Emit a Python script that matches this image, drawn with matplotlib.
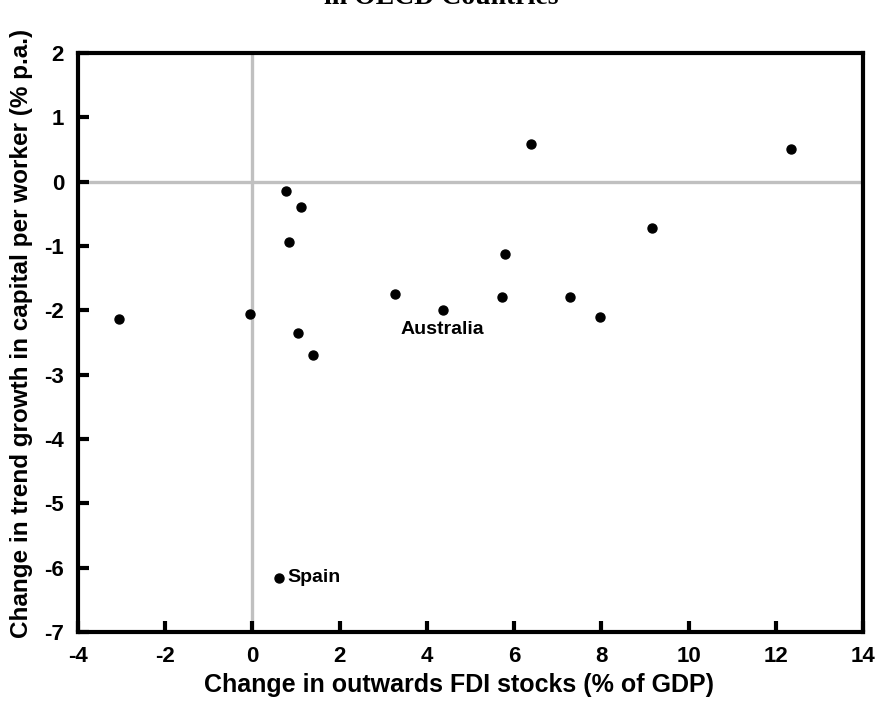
import matplotlib
matplotlib.use("Agg")
import matplotlib.pyplot as plt

# Change in outwards FDI stocks (% of GDP) vs change in trend capital growth
fdi_change = [-3.05, -0.05, 0.76, 1.12, 0.83, 1.05, 1.40, 3.26, 4.36,
              6.38, 5.80, 5.73, 7.29, 7.98, 9.15, 12.34, 0.62]
capital_change = [-2.13, -2.05, -0.14, -0.39, -0.93, -2.35, -2.69, -1.74, -2.00,
                  0.58, -1.12, -1.80, -1.80, -2.10, -0.72, 0.50, -6.16]
point_labels = {8: "Australia", 16: "Spain"}

x_ticks = [-4, -2, 0, 2, 4, 6, 8, 10, 12, 14]
y_ticks = [2, 1, 0, -1, -2, -3, -4, -5, -6, -7]

plt.rcParams.update({
    "font.family": ["Liberation Sans", "DejaVu Sans"],
    "font.weight": "bold",
    "axes.unicode_minus": False,
})

fig = plt.figure(figsize=(8.82, 7.01), dpi=100)
ax = fig.add_axes([0.0884, 0.0984, 0.8901, 0.826])

ax.axhline(0, color="#c0c0c0", linewidth=2.4, zorder=1)
ax.axvline(0, color="#c0c0c0", linewidth=2.4, zorder=1)
ax.scatter(fdi_change, capital_change, s=42, color="black", zorder=3)

for idx, name in point_labels.items():
    if name == "Spain":
        ax.annotate(name, (fdi_change[idx], capital_change[idx]), xytext=(6, 0),
                    textcoords="offset points", ha="left", va="center",
                    fontsize=14, fontweight="bold")
    else:
        ax.annotate(name, (fdi_change[idx], capital_change[idx]), xytext=(0, -14),
                    textcoords="offset points", ha="center", va="center",
                    fontsize=14, fontweight="bold")

ax.set_xlim(-4, 14)
ax.set_ylim(-7, 2)
ax.set_xticks(x_ticks)
ax.set_yticks(y_ticks)
ax.set_xticklabels([str(v) for v in x_ticks])
ax.set_yticklabels([str(v) for v in y_ticks])
ax.tick_params(direction="in", length=8, width=3, labelsize=16)
ax.tick_params(axis="x", pad=10)
ax.tick_params(axis="y", pad=10)
for lab in ax.get_xticklabels() + ax.get_yticklabels():
    lab.set_fontweight("bold")
for sp in ax.spines.values():
    sp.set_linewidth(3)

ax.set_xlabel("Change in outwards FDI stocks (% of GDP)", fontsize=18,
              fontweight="bold", labelpad=0)
ax.set_ylabel("Change in trend growth in capital per worker (% p.a.)", fontsize=17.5,
              fontweight="bold", labelpad=0)
ax.xaxis.set_label_coords(0.485, -0.071)
ax.yaxis.set_label_coords(-0.057, 0.516)

fig.text(0.5, 0.994, "in OECD Countries", ha="center", va="baseline",
         fontsize=20, fontweight="bold", family=["Liberation Serif", "DejaVu Serif"])

fig.savefig("out.png", dpi=100)
